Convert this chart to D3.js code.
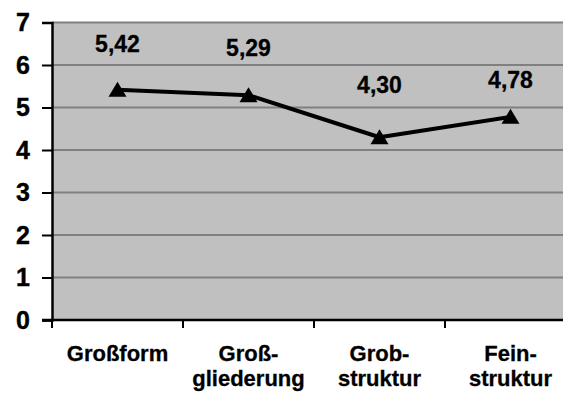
<!DOCTYPE html>
<html>
<head>
<meta charset="utf-8">
<script src="https://cdn.jsdelivr.net/npm/d3@7"></script>
<style>
  html, body { margin: 0; padding: 0; background: #fff; }
  svg { display: block; font-family: "Liberation Sans", Arial, sans-serif; }
</style>
</head>
<body>
<svg id="chart" width="563" height="394"></svg>
<script>
// Mean ratings per structural level
const categories = ["Großform", "Großgliederung", "Grobstruktur", "Feinstruktur"];
const categoryLines = [["Großform"], ["Groß-", "gliederung"], ["Grob-", "struktur"], ["Fein-", "struktur"]];
const values = [5.42, 5.29, 4.30, 4.78];
const valueLabels = ["5,42", "5,29", "4,30", "4,78"];
const yTicks = [0, 1, 2, 3, 4, 5, 6, 7];

// label lift above each marker (px)
const labelLift = [38, 39, 44, 29];

const svg = d3.select("#chart");
const plot = { left: 52, top: 22.5, bottom: 320, band: 131 };

const x = d3.scaleBand()
  .domain(categories)
  .range([plot.left, plot.left + plot.band * categories.length])
  .paddingInner(0).paddingOuter(0);

const y = d3.scaleLinear().domain([0, 7]).range([plot.bottom, plot.top]);

// plot background
svg.append("rect")
  .attr("x", plot.left).attr("y", y(7))
  .attr("width", x.range()[1] - plot.left)
  .attr("height", y(0) - y(7))
  .attr("fill", "#c0c0c0");

// horizontal gridlines
svg.append("g")
  .selectAll("line")
  .data(yTicks.filter(d => d > 0))
  .join("line")
  .attr("x1", plot.left).attr("x2", x.range()[1])
  .attr("y1", d => y(d)).attr("y2", d => y(d))
  .attr("stroke", "#808080").attr("stroke-width", 2);

// y axis
const yAxis = svg.append("g")
  .attr("transform", `translate(${plot.left},0)`)
  .call(d3.axisLeft(y).tickValues(yTicks).tickFormat(d3.format("d")).tickSize(10).tickPadding(12));
yAxis.select(".domain").attr("stroke", "#000").attr("stroke-width", 2.5);
yAxis.selectAll(".tick line").attr("stroke", "#000").attr("stroke-width", 2);
yAxis.selectAll(".tick text")
  .attr("fill", "#000")
  .attr("stroke", "#000").attr("stroke-width", 0.4)
  .style("font-size", "25px").style("font-weight", "bold")
  .attr("font-family", "Liberation Sans, Arial, sans-serif");

// x axis: ticks at category boundaries
const boundaries = d3.range(categories.length + 1).map(i => plot.left + i * x.bandwidth());
const xAxisG = svg.append("g");
xAxisG.append("line")
  .attr("x1", plot.left - 10).attr("x2", x.range()[1])
  .attr("y1", y(0)).attr("y2", y(0))
  .attr("stroke", "#000").attr("stroke-width", 2.5);
xAxisG.selectAll("line.tick")
  .data(boundaries)
  .join("line")
  .attr("class", "tick")
  .attr("x1", d => d).attr("x2", d => d)
  .attr("y1", y(0)).attr("y2", y(0) + 8)
  .attr("stroke", "#000").attr("stroke-width", 2);

// category labels
const catG = xAxisG.selectAll("text.cat")
  .data(categories)
  .join("text")
  .attr("class", "cat")
  .attr("text-anchor", "middle")
  .attr("font-size", 22).attr("font-weight", "bold").attr("fill", "#000")
  .attr("stroke", "#000").attr("stroke-width", 0.3);
catG.each(function (d, i) {
  const t = d3.select(this);
  categoryLines[i].forEach((ln, j) => {
    t.append("tspan")
      .attr("x", x(d) + x.bandwidth() / 2)
      .attr("y", 361 + j * 25)
      .text(ln);
  });
});

// data line
const line = d3.line()
  .x((d, i) => x(categories[i]) + x.bandwidth() / 2)
  .y(d => y(d));
svg.append("path")
  .datum(values)
  .attr("d", line)
  .attr("fill", "none")
  .attr("stroke", "#000")
  .attr("stroke-width", 4)
  .attr("stroke-linejoin", "round");

// triangle markers
svg.append("g")
  .selectAll("path")
  .data(values)
  .join("path")
  .attr("transform", (d, i) => `translate(${x(categories[i]) + x.bandwidth() / 2},${y(d)})`)
  .attr("d", "M0,-8L9,7L-9,7Z")
  .attr("fill", "#000");

// value labels
svg.append("g")
  .selectAll("text")
  .data(values)
  .join("text")
  .attr("x", (d, i) => x(categories[i]) + x.bandwidth() / 2)
  .attr("y", (d, i) => y(d) - labelLift[i])
  .attr("text-anchor", "middle")
  .attr("font-size", 23).attr("font-weight", "bold").attr("fill", "#000")
  .attr("stroke", "#000").attr("stroke-width", 0.3)
  .text((d, i) => valueLabels[i]);
</script>
</body>
</html>
